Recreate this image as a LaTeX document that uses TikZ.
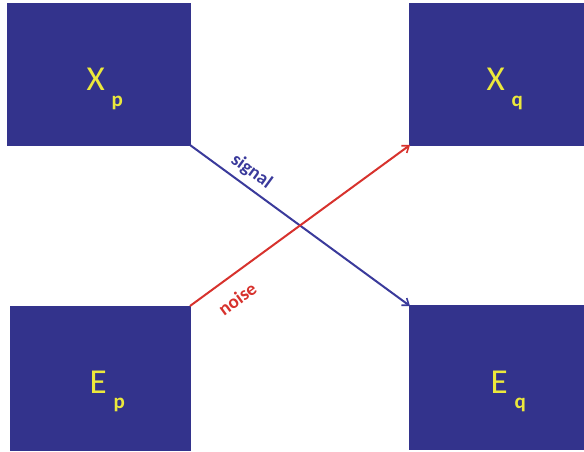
\documentclass[tikz,border=0pt]{standalone}
\usepackage{fontspec}
\setmainfont{Carlito}
\usetikzlibrary{arrows.meta}
\definecolor{boxblue}{RGB}{51,51,140}
\definecolor{txtyellow}{RGB}{235,232,60}
\definecolor{sigblue}{RGB}{58,58,155}
\definecolor{noisered}{RGB}{215,50,45}
\newcommand{\subl}[1]{\hspace{7pt}\raisebox{-0.45em}{\fontsize{21}{22}\selectfont\bfseries #1}}
\begin{document}
\begin{tikzpicture}[x=1pt,y=-1pt,
  blockbox/.style={fill=boxblue,draw=none,anchor=north west,inner sep=0pt},
  lbl/.style={text=txtyellow,font=\fontsize{35}{40}\selectfont},
  conn/.style={line width=2pt,-{Straight Barb[length=6pt,width=9pt,line width=1.6pt]}},
  conntext/.style={font=\fontsize{19}{20}\selectfont\bfseries,sloped,inner sep=2pt}]
\useasboundingbox (0,0) rectangle (584,452);
\node[blockbox,minimum width=184pt,minimum height=143pt] (xp) at (7,3) {};
\node[blockbox,minimum width=175pt,minimum height=143pt] (xq) at (409,3) {};
\node[blockbox,minimum width=181pt,minimum height=145pt] (ep) at (10,306) {};
\node[blockbox,minimum width=175pt,minimum height=145pt] (eq) at (409,305) {};
\node[lbl,anchor=base west] (xpl) at (83,91) {X\subl{p}};
\node[lbl,anchor=base west] (xql) at (483,91) {X\subl{q}};
\node[lbl,anchor=base west] (epl) at (86,393) {E\subl{p}};
\node[lbl,anchor=base west] (eql) at (487,393) {E\subl{q}};
\coordinate (s1) at (190,145);
\coordinate (s2) at (410,306);
\coordinate (n1) at (190,306);
\coordinate (n2) at (410,145);
\draw[conn,draw=sigblue] (s1) -- node[conntext,pos=0.24,above=3.5pt,text=sigblue] (sigl) {signal} (s2);
\draw[conn,draw=noisered] (n1) -- node[conntext,pos=0.155,below=12.5pt,text=noisered] (noisel) {noise} (n2);
\end{tikzpicture}
\end{document}
